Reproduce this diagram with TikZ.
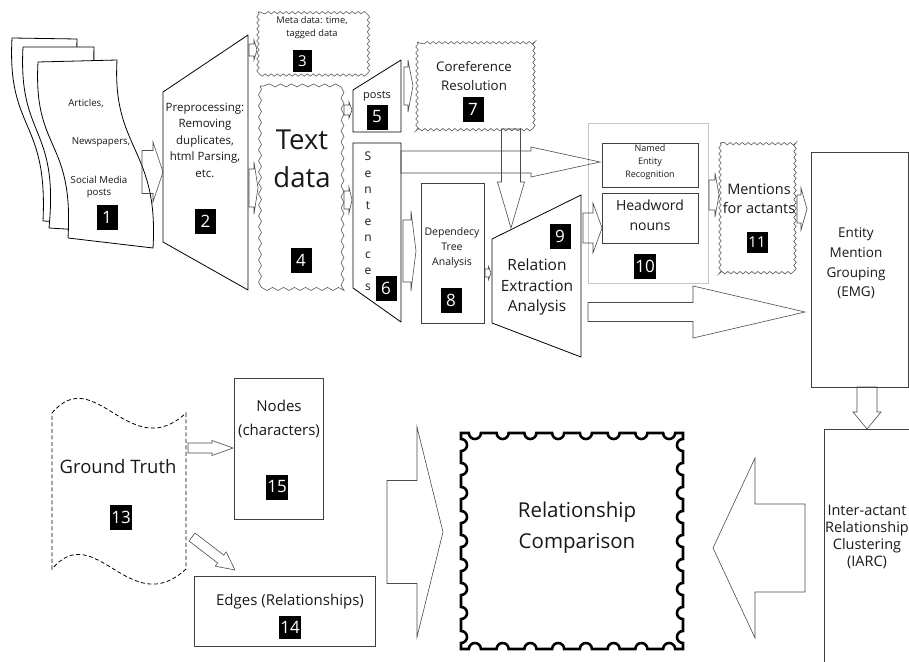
\documentclass[tikz,border=0pt]{standalone}
\usepackage{fontspec}
\setmainfont{Open Sans}
\usetikzlibrary{decorations.pathmorphing,calc}

\newcommand{\fsz}[2]{\fontsize{#1}{#2}\selectfont}

% hollow block arrow between two named coordinates
\newcommand{\blockarr}[5]{%
  \path (#1); \pgfgetlastxy{\bax}{\bay}%
  \path (#2); \pgfgetlastxy{\bbx}{\bby}%
  \pgfmathsetmacro\bang{atan2((\bby)-(\bay),(\bbx)-(\bax))}%
  \pgfmathsetmacro\blen{veclen((\bbx)-(\bax),(\bby)-(\bay))}%
  \pgfmathsetmacro\bhl{\blen-#5}%
  \draw[hollowarrow, shift={(\bax,\bay)}, rotate=\bang]
    (0pt,-#3pt) -- (\bhl pt,-#3pt) -- (\bhl pt,-#4pt) -- (\blen pt,0pt)
    -- (\bhl pt,#4pt) -- (\bhl pt,#3pt) -- (0pt,#3pt) -- cycle;%
}
\newcommand{\barrow}[8]{%
  \coordinate (#1s) at (#2,#3);
  \coordinate (#1e) at (#4,#5);
  \blockarr{#1s}{#1e}{#6}{#7}{#8}%
}

\begin{document}
\begin{tikzpicture}[x=1pt,y=-1pt,
  every node/.style={inner sep=0pt, outer sep=0pt},
  shp/.style={draw=black, line width=0.8pt, fill=white, line join=round},
  box/.style={draw=black!75, line width=0.7pt, fill=white},
  hollowarrow/.style={draw=black!70, line width=0.6pt, line join=miter},
  numbox/.style={fill=black, text=white, font=\fsz{17}{17}, minimum height=25pt, minimum width=21pt, inner sep=1.5pt},
  txt/.style={align=center, text=black!90},
  wavy/.style={draw=black!65, line width=0.6pt, fill=white, decorate, decoration={snake, segment length=6pt, amplitude=1.2pt}},
  wavybig/.style={draw=black!65, line width=0.6pt, fill=white, decorate, decoration={snake, segment length=11pt, amplitude=1.5pt}},
  gtline/.style={draw=black, line width=0.8pt, dash pattern=on 4pt off 2.5pt, fill=white}
]
\useasboundingbox (0,0) rectangle (909,661);
\clip (0,0) rectangle (909,661);
\fill[white] (0,0) rectangle (909,661);

% ---------- documents (1)
\draw[shp] (12,38) -- (77,39) .. controls (74,127) and (117,129) .. (113,224)
  -- (43,221) .. controls (48,118) and (7,132) .. (12,38) -- cycle;
\draw[shp] (23,47) -- (94,47) .. controls (91,135) and (134,137) .. (130,233)
  -- (49,228) .. controls (59,125) and (18,139) .. (23,47) -- cycle;
\draw[shp] (38,62) -- (117,60) .. controls (112,150) and (159,148) .. (153,248)
  -- (68,238) .. controls (74,138) and (33,152) .. (38,62) -- cycle;
\node[txt, font=\fsz{9.7}{12.5}] (art) at (86,103) {Articles,};
\node[txt, font=\fsz{9.7}{12.5}] (news) at (101,142) {Newspapers,};
\node[txt, font=\fsz{9.7}{12.5}] (soc) at (99,187) {Social Media\\posts};
\node[numbox] (n1) at (107,217.5) {1};

% ---------- preprocessing (2)
\draw[shp] (163,92) -- (248,35) -- (248,290) -- (163,242) -- cycle;
\node[txt, font=\fsz{11.5}{16.5}] (prep) at (205,140) {Preprocessing:\\Removing\\duplicates,\\html Parsing,\\etc.};
\node[numbox] (n2) at (205.5,221.5) {2};

% ---------- meta data (3)
\draw[wavy] (258,12) rectangle (365,73);
\node[txt, font=\fsz{9.3}{13}] (meta) at (312,27.5) {Meta data: time,\\tagged data};
\node[numbox, font=\fsz{15}{15}, minimum height=22pt, minimum width=19pt] (n3) at (302.5,61) {3};

% ---------- text data (4)
\draw[wavybig] (260,86) rectangle (342,287);
\node[txt, font=\fsz{27.5}{38}] (td) at (302,159) {Text\\data};
\node[numbox] (n4) at (301,260) {4};

% ---------- posts (5)
\draw[shp] (353,90) -- (401,60) -- (401,132) -- (353,132) -- cycle;
\node[txt, font=\fsz{11}{11}] (posts) at (377,96) {posts};
\node[numbox] (n5) at (377,117) {5};

% ---------- sentences (6)
\draw[shp] (353,143) -- (401,143) -- (401,322) -- (353,288) -- cycle;
\node[txt, font=\fsz{12}{16.2}] (sent) at (368,221.5) {S\\e\\n\\t\\e\\n\\c\\e\\s};
\node[numbox] (n6) at (386,288) {6};

% ---------- coreference (7)
\draw[wavy] (417,42) rectangle (533,129);
\node[txt, font=\fsz{13.3}{19}] (coref) at (474,75.5) {Coreference\\Resolution};
\node[numbox] (n7) at (473,109) {7};

% ---------- dependency tree (8)
\draw[box] (421,183) rectangle (484,323);
\node[txt, font=\fsz{10.5}{15}] (dep) at (452,248) {Dependecy\\Tree\\Analysis};
\node[numbox] (n8) at (451,300) {8};

% ---------- relation extraction (9)
\draw[shp] (492,239) -- (581,195) -- (581,357) -- (492,323) -- cycle;
\node[txt, font=\fsz{15.5}{20.5}] (rel) at (537,287) {Relation\\Extraction\\Analysis};
\node[numbox] (n9) at (560,236) {9};

% ---------- group (10)
\draw[draw=black!22, line width=0.6pt] (588,123) rectangle (708,283);
\draw[box] (602,143) rectangle (698,187);
\node[txt, font=\fsz{9}{12.8}] (ner) at (650,162) {Named\\Entity\\Recognition};
\draw[box] (602,193) rectangle (698,243);
\node[txt, font=\fsz{14}{20}] (head) at (650,215) {Headword\\nouns};
\node[numbox] (n10) at (645,266) {10};

% ---------- mentions (11)
\draw[wavy] (720,143) rectangle (796,272);
\node[txt, font=\fsz{14.5}{19}] (ment) at (759,198.5) {Mentions\\for actants};
\node[numbox, font=\fsz{15}{15}, minimum height=21pt] (n11) at (757,242) {11};

% ---------- EMG
\draw[box] (811,152) rectangle (908,387);
\node[txt, font=\fsz{13.5}{19.7}] (emg) at (856,263.5) {Entity\\Mention\\Grouping\\(EMG)};

% ---------- IARC
\draw[box] (824,429) rectangle (925,680);
\node[txt, font=\fsz{14.5}{16.7}] (iarc) at (867,537) {Inter-actant\\Relationship\\Clustering\\(IARC)};

% ---------- ground truth (13)
\draw[gtline] (52,413) .. controls (95,362) and (130,465) .. (186,413)
  -- (186,569) .. controls (130,621) and (95,518) .. (52,569) -- cycle;
\node[txt, font=\fsz{18.5}{18.5}] (gt) at (118,467) {Ground Truth};
\node[numbox] (n13) at (121,517) {13};

% ---------- nodes (15)
\draw[box] (234,378) rectangle (323,519);
\node[txt, font=\fsz{15}{24}] (nodes) at (279,419) {Nodes\\(characters)};
\node[numbox] (n15) at (277,487) {15};

% ---------- edges (14)
\draw[box] (194,576) rectangle (375,646);
\node[txt, font=\fsz{15}{15}] (edges) at (290,602) {Edges (Relationships)};
\node[numbox, minimum height=23pt] (n14) at (290,627) {14};

% ---------- relationship comparison
\draw[draw=black, line width=2.6pt, fill=white, line join=miter]
  (461,433)
  \foreach \i in {0,...,7} { -- ({461+27.75*(\i+0.5)-6},433) arc[start angle=180,end angle=360,radius=6pt] }
  -- (683,433)
  \foreach \i in {0,...,8} { -- (683,{433+24*(\i+0.5)-6}) arc[start angle=90,end angle=270,radius=6pt] }
  -- (683,649)
  \foreach \i in {0,...,7} { -- ({683-27.75*(\i+0.5)+6},649) arc[start angle=0,end angle=180,radius=6pt] }
  -- (461,649)
  \foreach \i in {0,...,8} { -- (461,{649-24*(\i+0.5)+6}) arc[start angle=-90,end angle=90,radius=6pt] }
  -- cycle;
\node[txt, font=\fsz{20.5}{31}] (comp) at (577,527.5) {Relationship\\Comparison};

% ---------- block arrows
\barrow{a1}{142}{172}{163}{172}{21.5}{30}{10}
\barrow{a2}{249}{50}{257}{50}{6}{10}{3}
\barrow{a3}{249}{188}{258}{188}{19}{26}{4}
\barrow{a4}{344}{110}{352}{110}{5}{8}{3}
\barrow{a5}{344}{200}{352}{200}{9}{13}{3}
\barrow{a6}{404}{86}{413}{86}{19}{26}{5}
\barrow{a7}{401}{162}{600}{162}{11}{15}{69}
\barrow{a8}{511}{129}{511}{228}{9.5}{13.5}{46}
\barrow{a9}{403}{251}{416}{251}{31}{40}{5}
\barrow{a10}{485}{273}{491}{273}{4}{6.5}{2.5}
\barrow{a11}{583}{228}{602}{228}{15}{25}{9}
\barrow{a12}{588}{312}{805}{312}{9.5}{26}{112}
\barrow{a13}{709}{195}{719}{195}{15}{22}{4}
\barrow{a14}{797}{209}{807}{209}{14}{21}{6}
\barrow{a15}{867}{387}{867}{429}{10}{14}{17}
\barrow{a16}{805}{548}{713}{548}{44}{90}{42}
\barrow{a17}{387}{532}{443}{532}{51.5}{105}{26}
\barrow{a18}{188}{448}{233}{448}{5}{7.5}{21}
\barrow{a19}{192}{537}{235}{570}{5}{9}{18}
\end{tikzpicture}
\end{document}
